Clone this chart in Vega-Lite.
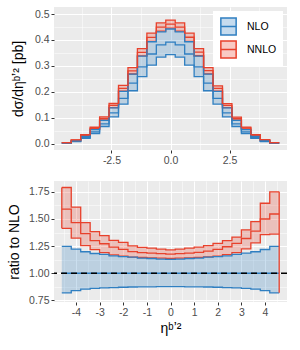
{
  "$schema": "https://vega.github.io/schema/vega-lite/v6.json",
  "background": "white",
  "padding": {"left": 7, "top": 7, "right": 7, "bottom": 5},
  "config": {
    "font": "Liberation Sans",
    "view": {"fill": "#EBEBEB", "stroke": null},
    "axis": {"domain": false, "tickColor": "#333333", "tickSize": 3, "tickWidth": 1, "labelColor": "#4D4D4D", "labelFontSize": 10.5, "labelPadding": 2, "titleFontSize": 14, "titleFontWeight": "normal", "titleColor": "black", "gridColor": "white", "gridWidth": 1.1, "gridOpacity": 1},
    "concat": {"spacing": 15}
  },
  "datasets": {
    "h": [
      {"x": -4.6, "o": "NLO", "lo": 0.0021, "mid": 0.0025, "hi": 0.0031, "rlo": 0.82, "rmid": 1, "rhi": 1.247},
      {"x": -4.2, "o": "NLO", "lo": 0.0080, "mid": 0.0095, "hi": 0.0116, "rlo": 0.84, "rmid": 1, "rhi": 1.222},
      {"x": -3.8, "o": "NLO", "lo": 0.0205, "mid": 0.024, "hi": 0.0288, "rlo": 0.853, "rmid": 1, "rhi": 1.198},
      {"x": -3.4, "o": "NLO", "lo": 0.0396, "mid": 0.046, "hi": 0.0544, "rlo": 0.86, "rmid": 1, "rhi": 1.182},
      {"x": -3.0, "o": "NLO", "lo": 0.0666, "mid": 0.077, "hi": 0.0903, "rlo": 0.865, "rmid": 1, "rhi": 1.173},
      {"x": -2.6, "o": "NLO", "lo": 0.1033, "mid": 0.119, "hi": 0.1380, "rlo": 0.868, "rmid": 1, "rhi": 1.16},
      {"x": -2.2, "o": "NLO", "lo": 0.1524, "mid": 0.175, "hi": 0.2020, "rlo": 0.871, "rmid": 1, "rhi": 1.154},
      {"x": -1.8, "o": "NLO", "lo": 0.2043, "mid": 0.234, "hi": 0.2686, "rlo": 0.873, "rmid": 1, "rhi": 1.148},
      {"x": -1.4, "o": "NLO", "lo": 0.2587, "mid": 0.296, "hi": 0.3374, "rlo": 0.874, "rmid": 1, "rhi": 1.14},
      {"x": -1.0, "o": "NLO", "lo": 0.3028, "mid": 0.346, "hi": 0.3931, "rlo": 0.875, "rmid": 1, "rhi": 1.136},
      {"x": -0.6, "o": "NLO", "lo": 0.3338, "mid": 0.381, "hi": 0.4309, "rlo": 0.876, "rmid": 1, "rhi": 1.131},
      {"x": -0.2, "o": "NLO", "lo": 0.3434, "mid": 0.392, "hi": 0.4422, "rlo": 0.876, "rmid": 1, "rhi": 1.128},
      {"x": 0.2, "o": "NLO", "lo": 0.3338, "mid": 0.381, "hi": 0.4309, "rlo": 0.876, "rmid": 1, "rhi": 1.131},
      {"x": 0.6, "o": "NLO", "lo": 0.3028, "mid": 0.346, "hi": 0.3931, "rlo": 0.875, "rmid": 1, "rhi": 1.136},
      {"x": 1.0, "o": "NLO", "lo": 0.2587, "mid": 0.296, "hi": 0.3374, "rlo": 0.874, "rmid": 1, "rhi": 1.14},
      {"x": 1.4, "o": "NLO", "lo": 0.2043, "mid": 0.234, "hi": 0.2686, "rlo": 0.873, "rmid": 1, "rhi": 1.148},
      {"x": 1.8, "o": "NLO", "lo": 0.1524, "mid": 0.175, "hi": 0.2020, "rlo": 0.871, "rmid": 1, "rhi": 1.154},
      {"x": 2.2, "o": "NLO", "lo": 0.1033, "mid": 0.119, "hi": 0.1380, "rlo": 0.868, "rmid": 1, "rhi": 1.16},
      {"x": 2.6, "o": "NLO", "lo": 0.0666, "mid": 0.077, "hi": 0.0903, "rlo": 0.865, "rmid": 1, "rhi": 1.173},
      {"x": 3.0, "o": "NLO", "lo": 0.0396, "mid": 0.046, "hi": 0.0545, "rlo": 0.86, "rmid": 1, "rhi": 1.185},
      {"x": 3.4, "o": "NLO", "lo": 0.0205, "mid": 0.024, "hi": 0.0288, "rlo": 0.853, "rmid": 1, "rhi": 1.198},
      {"x": 3.8, "o": "NLO", "lo": 0.0080, "mid": 0.0095, "hi": 0.0116, "rlo": 0.84, "rmid": 1, "rhi": 1.219},
      {"x": 4.2, "o": "NLO", "lo": 0.0021, "mid": 0.0025, "hi": 0.0031, "rlo": 0.82, "rmid": 1, "rhi": 1.247},
      {"x": 4.6, "o": "NLO", "lo": 0.0021, "mid": 0.0025, "hi": 0.0031, "rlo": 0.82, "rmid": 1, "rhi": 1.247},
      {"x": -4.6, "o": "NNLO", "lo": 0.0035, "mid": 0.0040, "hi": 0.0045, "rlo": 1.414, "rmid": 1.59, "rhi": 1.79},
      {"x": -4.2, "o": "NNLO", "lo": 0.0126, "mid": 0.0139, "hi": 0.0153, "rlo": 1.324, "rmid": 1.467, "rhi": 1.61},
      {"x": -3.8, "o": "NNLO", "lo": 0.0301, "mid": 0.0328, "hi": 0.0352, "rlo": 1.254, "rmid": 1.365, "rhi": 1.467},
      {"x": -3.4, "o": "NNLO", "lo": 0.0560, "mid": 0.0598, "hi": 0.0636, "rlo": 1.217, "rmid": 1.30, "rhi": 1.383},
      {"x": -3.0, "o": "NNLO", "lo": 0.0916, "mid": 0.0979, "hi": 0.1036, "rlo": 1.19, "rmid": 1.272, "rhi": 1.346},
      {"x": -2.6, "o": "NNLO", "lo": 0.1392, "mid": 0.1477, "hi": 0.1551, "rlo": 1.17, "rmid": 1.241, "rhi": 1.303},
      {"x": -2.2, "o": "NNLO", "lo": 0.2027, "mid": 0.2135, "hi": 0.2247, "rlo": 1.158, "rmid": 1.22, "rhi": 1.284},
      {"x": -1.8, "o": "NNLO", "lo": 0.2689, "mid": 0.2808, "hi": 0.2932, "rlo": 1.149, "rmid": 1.20, "rhi": 1.253},
      {"x": -1.4, "o": "NNLO", "lo": 0.3389, "mid": 0.3522, "hi": 0.3664, "rlo": 1.145, "rmid": 1.19, "rhi": 1.238},
      {"x": -1.0, "o": "NNLO", "lo": 0.3948, "mid": 0.4100, "hi": 0.4263, "rlo": 1.141, "rmid": 1.185, "rhi": 1.232},
      {"x": -0.6, "o": "NNLO", "lo": 0.4340, "mid": 0.4496, "hi": 0.4656, "rlo": 1.139, "rmid": 1.18, "rhi": 1.222},
      {"x": -0.2, "o": "NNLO", "lo": 0.4457, "mid": 0.4610, "hi": 0.4763, "rlo": 1.137, "rmid": 1.176, "rhi": 1.215},
      {"x": 0.2, "o": "NNLO", "lo": 0.4340, "mid": 0.4496, "hi": 0.4656, "rlo": 1.139, "rmid": 1.18, "rhi": 1.222},
      {"x": 0.6, "o": "NNLO", "lo": 0.3948, "mid": 0.4104, "hi": 0.4263, "rlo": 1.141, "rmid": 1.186, "rhi": 1.232},
      {"x": 1.0, "o": "NNLO", "lo": 0.3392, "mid": 0.3528, "hi": 0.3670, "rlo": 1.146, "rmid": 1.192, "rhi": 1.24},
      {"x": 1.4, "o": "NNLO", "lo": 0.2691, "mid": 0.2815, "hi": 0.2937, "rlo": 1.15, "rmid": 1.203, "rhi": 1.255},
      {"x": 1.8, "o": "NNLO", "lo": 0.2027, "mid": 0.2135, "hi": 0.2231, "rlo": 1.158, "rmid": 1.22, "rhi": 1.275},
      {"x": 2.2, "o": "NNLO", "lo": 0.1395, "mid": 0.1480, "hi": 0.1547, "rlo": 1.172, "rmid": 1.244, "rhi": 1.30},
      {"x": 2.6, "o": "NNLO", "lo": 0.0916, "mid": 0.0982, "hi": 0.1026, "rlo": 1.19, "rmid": 1.275, "rhi": 1.333},
      {"x": 3.0, "o": "NNLO", "lo": 0.0564, "mid": 0.0607, "hi": 0.0644, "rlo": 1.225, "rmid": 1.32, "rhi": 1.40},
      {"x": 3.4, "o": "NNLO", "lo": 0.0307, "mid": 0.0333, "hi": 0.0354, "rlo": 1.28, "rmid": 1.389, "rhi": 1.476},
      {"x": 3.8, "o": "NNLO", "lo": 0.0129, "mid": 0.0143, "hi": 0.0156, "rlo": 1.355, "rmid": 1.50, "rhi": 1.645},
      {"x": 4.2, "o": "NNLO", "lo": 0.0034, "mid": 0.0039, "hi": 0.0044, "rlo": 1.361, "rmid": 1.546, "rhi": 1.75},
      {"x": 4.6, "o": "NNLO", "lo": 0.0034, "mid": 0.0039, "hi": 0.0044, "rlo": 1.361, "rmid": 1.546, "rhi": 1.75}
    ],
    "edge": [
      {"x": -4.6, "y": 1.414, "y2": 1.79},
      {"x": 4.6, "y": 0.82, "y2": 1.75}
    ]
  },
  "resolve": {"scale": {"color": "independent"}, "legend": {"color": "independent"}},
  "vconcat": [
    {
      "width": 233,
      "height": 143,
      "data": {"name": "h"},
      "resolve": {"axis": {"x": "independent", "y": "independent"}},
      "layer": [
        {
          "mark": {"type": "area", "interpolate": "step-after", "fillOpacity": 0.25},
          "encoding": {
            "x": {"field": "x", "type": "quantitative", "scale": {"domain": [-4.93, 4.93], "nice": false, "zero": false},
                  "axis": {"values": [-2.5, 0, 2.5], "labelExpr": "replace(format(datum.value, '.1f'), '\u2212', '-')", "title": null, "grid": true}},
            "y": {"field": "lo", "type": "quantitative", "scale": {"domain": [-0.024, 0.527], "nice": false, "zero": false},
                  "axis": {"values": [0, 0.1, 0.2, 0.3, 0.4, 0.5], "format": ".1f", "title": "dσ/dηᵇʼ² [pb]", "titlePadding": 9, "grid": true}},
            "y2": {"field": "hi"},
            "color": {"field": "o", "type": "nominal", "scale": {"domain": ["NLO", "NNLO"], "range": ["#2f7fc1", "#e8412c"]},
                      "legend": {"title": null, "orient": "top-right", "offset": 4, "fillColor": "white", "padding": 6,
                                 "symbolType": "M-0.9,-1H0.9V1H-0.9Z M-0.9,0H0.9", "symbolSize": 289, "symbolStrokeWidth": 1.5,
                                 "labelFontSize": 10.5, "labelColor": "black", "labelOffset": 9, "rowPadding": 0,
                                 "encode": {"symbols": {"update": {
                                   "fillOpacity": {"value": 0.28},
                                   "opacity": {"value": 1},
                                   "strokeWidth": {"value": 1.5},
                                   "fill": [{"test": "datum.value === 'NLO'", "value": "#2f7fc1"}, {"value": "#e8412c"}],
                                   "stroke": [{"test": "datum.value === 'NLO'", "value": "#2f7fc1"}, {"value": "#e8412c"}]}}}}}
          }
        },
        {
          "mark": {"type": "line", "interpolate": "step-after", "strokeWidth": 1.3},
          "encoding": {
            "x": {"field": "x", "type": "quantitative", "axis": {"orient": "top", "values": [-3.75, -1.25, 1.25, 3.75], "grid": true, "gridWidth": 0.5, "labels": false, "ticks": false, "domain": false, "title": null}},
            "y": {"field": "mid", "type": "quantitative", "axis": {"orient": "right", "values": [0.05, 0.15, 0.25, 0.35, 0.45], "grid": true, "gridWidth": 0.5, "labels": false, "ticks": false, "domain": false, "title": null}},
            "color": {"field": "o", "type": "nominal"}
          }
        },
        {
          "mark": {"type": "line", "interpolate": "step-after", "strokeWidth": 1.3},
          "encoding": {
            "x": {"field": "x", "type": "quantitative", "axis": null},
            "y": {"field": "lo", "type": "quantitative", "axis": null},
            "color": {"field": "o", "type": "nominal"}
          }
        },
        {
          "mark": {"type": "line", "interpolate": "step-after", "strokeWidth": 1.3},
          "encoding": {
            "x": {"field": "x", "type": "quantitative", "axis": null},
            "y": {"field": "hi", "type": "quantitative", "axis": null},
            "color": {"field": "o", "type": "nominal"}
          }
        }
      ]
    },
    {
      "width": 233,
      "height": 121,
      "resolve": {"axis": {"x": "independent", "y": "independent"}},
      "layer": [
        {
          "data": {"name": "h"},
          "mark": {"type": "area", "interpolate": "step-after", "fillOpacity": 0.25},
          "encoding": {
            "x": {"field": "x", "type": "quantitative", "scale": {"domain": [-4.93, 4.93], "nice": false, "zero": false},
                  "axis": {"values": [-4, -3, -2, -1, 0, 1, 2, 3, 4], "labelExpr": "replace(format(datum.value, 'd'), '\u2212', '-')", "title": "ηᵇʼ²", "titlePadding": 4, "grid": true}},
            "y": {"field": "rlo", "type": "quantitative", "scale": {"domain": [0.735, 1.85], "nice": false, "zero": false},
                  "axis": {"values": [0.75, 1, 1.25, 1.5, 1.75], "format": ".2f", "title": "ratio to NLO", "titlePadding": 7, "grid": true}},
            "y2": {"field": "rhi"},
            "fill": {"field": "o", "type": "nominal", "scale": {"domain": ["NLO", "NNLO"], "range": ["#2f7fc1", "#e8412c"]}, "legend": null}
          }
        },
        {
          "data": {"name": "h"},
          "mark": {"type": "line", "interpolate": "step-after", "strokeWidth": 1.3},
          "encoding": {
            "x": {"field": "x", "type": "quantitative", "axis": {"orient": "top", "values": [-4.5, -3.5, -2.5, -1.5, -0.5, 0.5, 1.5, 2.5, 3.5, 4.5], "grid": true, "gridWidth": 0.5, "labels": false, "ticks": false, "domain": false, "title": null}},
            "y": {"field": "rmid", "type": "quantitative", "axis": {"orient": "right", "values": [0.875, 1.125, 1.375, 1.625], "grid": true, "gridWidth": 0.5, "labels": false, "ticks": false, "domain": false, "title": null}},
            "stroke": {"field": "o", "type": "nominal", "scale": {"domain": ["NLO", "NNLO"], "range": ["#2f7fc1", "#e8412c"]}, "legend": null}
          }
        },
        {
          "data": {"name": "h"},
          "mark": {"type": "line", "interpolate": "step-after", "strokeWidth": 1.3},
          "encoding": {
            "x": {"field": "x", "type": "quantitative", "axis": null},
            "y": {"field": "rlo", "type": "quantitative", "axis": null},
            "stroke": {"field": "o", "type": "nominal", "legend": null}
          }
        },
        {
          "data": {"name": "h"},
          "mark": {"type": "line", "interpolate": "step-after", "strokeWidth": 1.3},
          "encoding": {
            "x": {"field": "x", "type": "quantitative", "axis": null},
            "y": {"field": "rhi", "type": "quantitative", "axis": null},
            "stroke": {"field": "o", "type": "nominal", "legend": null}
          }
        },
        {
          "data": {"values": [{}]},
          "mark": {"type": "rule", "color": "black", "strokeWidth": 1.3, "strokeDash": [6, 4]},
          "encoding": {
            "y": {"datum": 1, "type": "quantitative", "axis": null}
          }
        },
        {
          "data": {"name": "edge"},
          "mark": {"type": "rule", "color": "#e8412c", "strokeWidth": 1.3},
          "encoding": {
            "x": {"field": "x", "type": "quantitative", "axis": null},
            "y": {"field": "y", "type": "quantitative", "axis": null},
            "y2": {"field": "y2"}
          }
        }
      ]
    }
  ]
}
